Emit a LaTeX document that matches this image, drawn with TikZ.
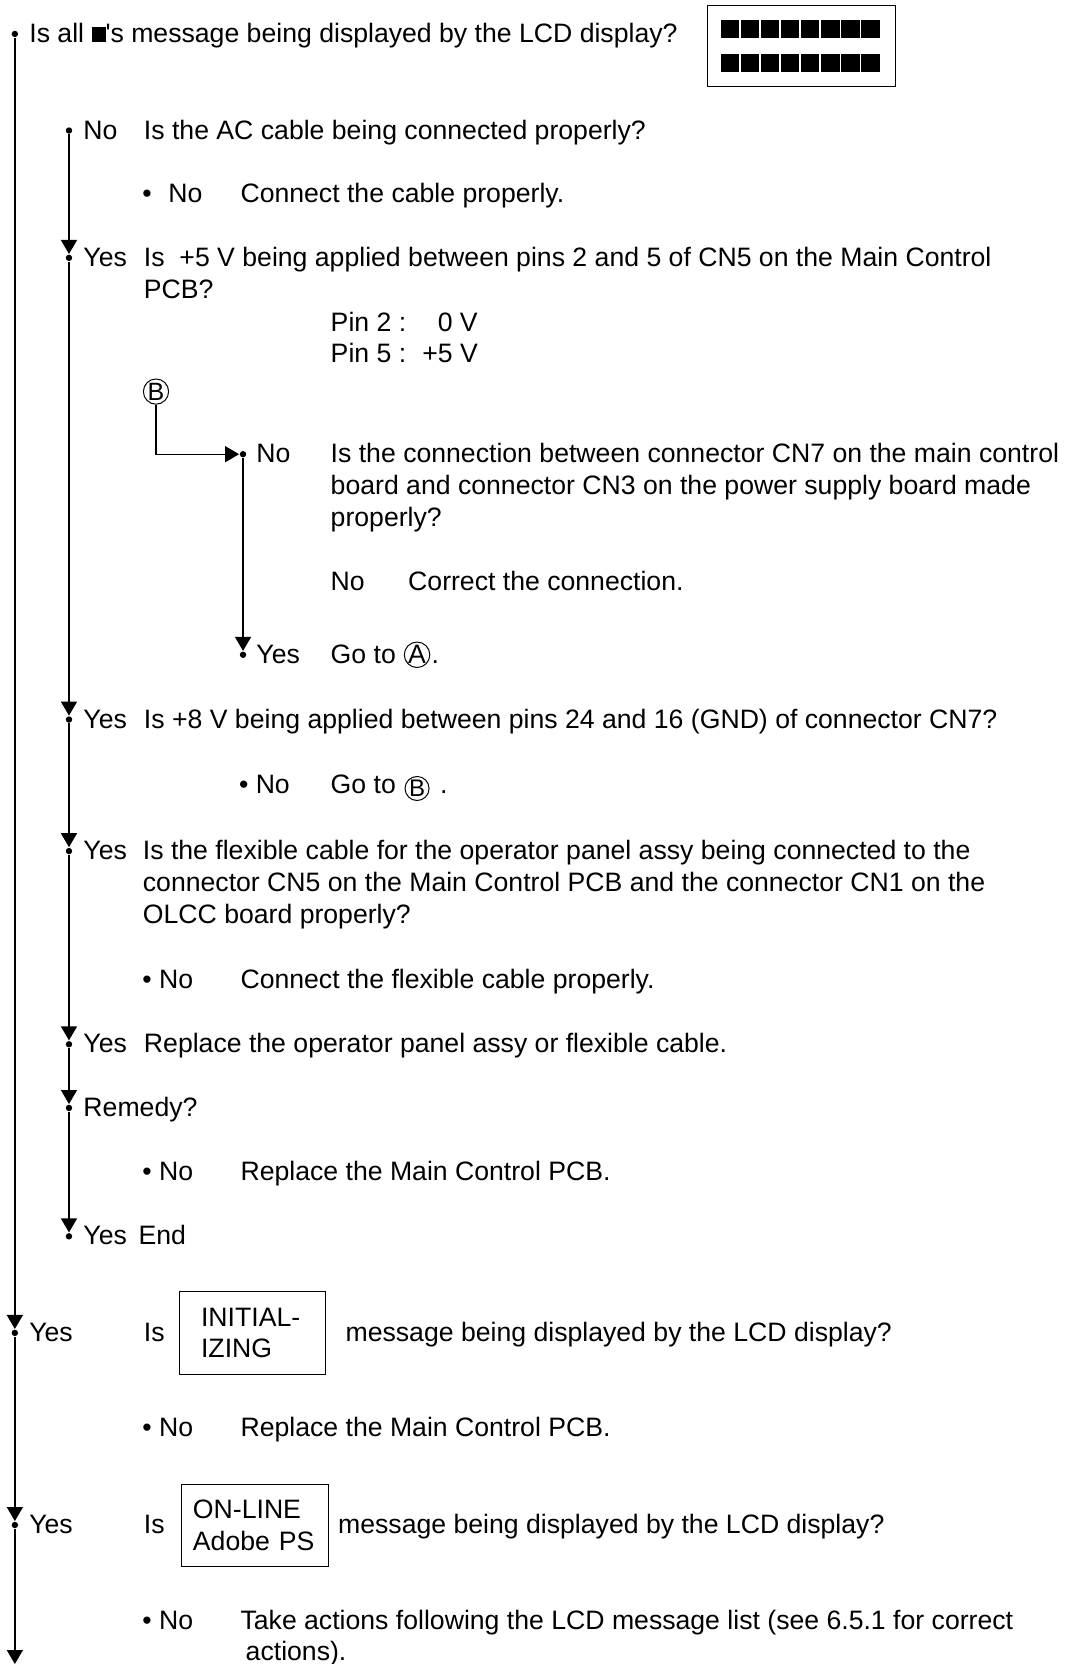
\documentclass[tikz,border=0pt]{standalone}
\usepackage{fontspec}
\setmainfont{Liberation Sans}
\usetikzlibrary{arrows.meta,positioning}

\begin{document}
\begin{tikzpicture}[
  x=0.53pt, y=-0.53pt,
  font=\fontsize{13.3}{15.9}\selectfont,
  line width=0.7pt,
  txt/.style={anchor=base west, inner sep=0pt},
  dot/.style={circle, fill, inner sep=0pt, minimum size=3.2pt},
  flow/.style={-{Triangle[length=7pt, width=8pt]}},
  msgbox/.style={draw, line width=0.5pt, anchor=west, align=left, minimum height=41.3pt},
  circ/.style={draw, circle, inner sep=0pt, minimum size=12pt, line width=0.5pt}
]
\useasboundingbox (0,0) rectangle (1009,1568);

% dots of the three flow lines
\node[dot] (d0) at (14,32) {};
\node[dot] (d1) at (14,1256) {};
\node[dot] (d2) at (14,1437) {};
\coordinate (dend) at (14,1568);
\node[dot] (a0) at (65,123) {};
\node[dot] (a1) at (65,243) {};
\node[dot] (a2) at (65,678) {};
\node[dot] (a3) at (65,802) {};
\node[dot] (a4) at (65,984) {};
\node[dot] (a5) at (65,1044) {};
\node[dot] (a6) at (65,1165) {};
\node[dot] (b0) at (229,428) {};
\node[dot] (b1) at (229,617) {};

% LCD display
\node[txt] (topq) at (27,40) {Is all \rule{7pt}{7.5pt}\textquotesingle s message being displayed by the LCD display?};
\node[draw, line width=0.5pt, anchor=north west, minimum width=93.8pt, minimum height=40.3pt] (lcd) at (666,5) {};
\foreach \i in {0,...,7} {
  \fill (679+\i*18.9,19) rectangle ++(17.6,17);
  \fill (679+\i*18.9,51) rectangle ++(17.6,17);
}

\node[txt] (acno) at (78,131) {No};
\node[txt] (acq) at (135,131) {Is the AC cable being connected properly?};
\node[txt] (acnono) at (133.6,191) {\textbullet\hspace{8.3pt}No};
\node[txt] (acfix) at (226,191) {Connect the cable properly.};

\node[txt] (v5yes) at (78,251) {Yes};
\node[txt] (v5q) at (135,251) {\begin{tabular}[t]{@{}l@{}}Is\ \ +5 V being applied between pins 2 and 5 of CN5 on the Main Control\\PCB?\end{tabular}};
\node[txt] (pins) at (311,312) {\begin{tabular}[t]{@{}l@{\hspace{8pt}}r@{}}Pin 2 :&0 V\\Pin 5 :&+5 V\end{tabular}};

\node[circ, minimum size=12.6pt, font=\fontsize{12.5}{14}\selectfont] (circB) at (147,369) {B};
\node[txt] (cn7no) at (241,436) {No};
\node[txt] (cn7q) at (311,436) {\begin{tabular}[t]{@{}l@{}}Is the connection between connector CN7 on the main control\\board and connector CN3 on the power supply board made\\properly?\end{tabular}};
\node[txt] (cn7nono) at (311,556) {No};
\node[txt] (cn7fix) at (384,556) {Correct the connection.};
\node[txt] (cn7yes) at (241,625) {Yes};
\node[txt] (gotoA) at (311,625) {Go to};
\node[circ, minimum size=12.7pt] (circA) at (393,617) {A};
\node[txt] at (406,625) {.};

\node[txt] (v8yes) at (78,686) {Yes};
\node[txt] (v8q) at (135,686) {Is +8 V being applied between pins 24 and 16 (GND) of connector CN7?};
\node[txt] (v8no) at (224.6,748) {\textbullet\ No};
\node[txt] (gotoB) at (311,748) {Go to};
\node[circ, font=\fontsize{12}{14}\selectfont] (circB2) at (393,743) {B};
\node[txt] at (414,748) {.};

\node[txt] (flexyes) at (78,810) {Yes};
\node[txt] (flexq) at (134,810) {\begin{tabular}[t]{@{}l@{}}Is the flexible cable for the operator panel assy being connected to the\\connector CN5 on the Main Control PCB and the connector CN1 on the\\OLCC board properly?\end{tabular}};
\node[txt] (flexno) at (133.6,931) {\textbullet\ No};
\node[txt] (flexfix) at (226,931) {Connect the flexible cable properly.};

\node[txt] (panyes) at (78,992) {Yes};
\node[txt] (panfix) at (135,992) {Replace the operator panel assy or flexible cable.};
\node[txt] (remedy) at (78,1052) {Remedy?};
\node[txt] (remno) at (133.6,1112) {\textbullet\ No};
\node[txt] (remfix) at (226,1112) {Replace the Main Control PCB.};
\node[txt] (remyes) at (78,1173) {Yes};
\node[txt] (finish) at (130,1173) {End};

% INITIALIZING message
\node[txt] (inityes) at (27,1264) {Yes};
\node[txt] (initis) at (135,1264) {Is};
\node[msgbox, text width=51.4pt, inner xsep=10.6pt] (initbox) at (169,1256) {INITIAL-\\IZING};
\node[txt] (initq) at (325,1264) {message being displayed by the LCD display?};
\node[txt] (initno) at (133.6,1354) {\textbullet\ No};
\node[txt] (initfix) at (226,1354) {Replace the Main Control PCB.};

% ON-LINE message
\node[txt] (onyes) at (27,1445) {Yes};
\node[txt] (onis) at (135,1445) {Is};
\node[msgbox, text width=62pt, inner xsep=5.5pt] (onbox) at (171,1437.5) {ON-LINE\\Adobe PS};
\node[txt] (onq) at (318,1445) {message being displayed by the LCD display?};
\node[txt] (onno) at (133.6,1535) {\textbullet\ No};
\node[txt] (onfix) at (226,1535) {\begin{tabular}[t]{@{}l@{}}Take actions following the LCD message list (see 6.5.1 for correct\\\hspace{2.6pt}actions).\end{tabular}};

% connectors
\draw[flow] (d0) -- (d1);
\draw[flow] (d1) -- (d2);
\draw[flow] (d2) -- (dend);
\draw[flow] (a0) -- (a1);
\draw[flow] (a1) -- (a2);
\draw[flow] (a2) -- (a3);
\draw[flow] (a3) -- (a4);
\draw[flow] (a4) -- (a5);
\draw[flow] (a5) -- (a6);
\draw[flow] (b0) -- (b1);
\draw[flow] (circB) |- (b0);
\end{tikzpicture}
\end{document}
